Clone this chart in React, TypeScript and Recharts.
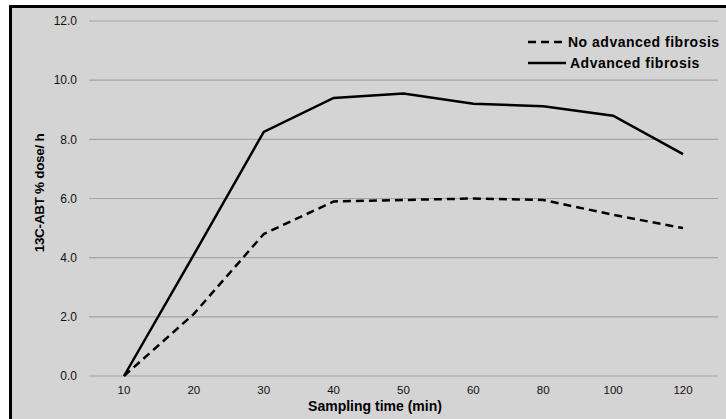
import { LineChart, Line, XAxis, YAxis, CartesianGrid } from 'recharts'

const times = ['10', '20', '30', '40', '50', '60', '80', '100', '120']
const noAdvanced = [0, 2.1, 4.8, 5.9, 5.95, 6.0, 5.95, 5.45, 5.0]
const advanced = [0, 4.1, 8.25, 9.4, 9.55, 9.2, 9.12, 8.8, 7.5]
const yTicks = [0, 2, 4, 6, 8, 10, 12]

const data = times.map((t, i) => ({
    time: t,
    noAdvanced: noAdvanced[i],
    advanced: advanced[i],
}))

const font = 'Arial, "Liberation Sans", sans-serif'

// legend drawn over the chart so it doesn't take plot space
function ChartLegend() {
    return (
        <svg width={200} height={44} style={{ position: 'absolute', left: 526, top: 33 }}>
            <line x1={2} y1={9} x2={38} y2={9} stroke="#000" strokeWidth={2.5} strokeDasharray="8 5" />
            <text x={42} y={14} fontFamily={font} fontWeight="bold" fontSize={14} letterSpacing={0.5} fill="#000">
                No advanced fibrosis
            </text>
            <line x1={2} y1={30} x2={40} y2={30} stroke="#000" strokeWidth={2.5} />
            <text x={44} y={35} fontFamily={font} fontWeight="bold" fontSize={14} letterSpacing={0.5} fill="#000">
                Advanced fibrosis
            </text>
        </svg>
    )
}

export default function App() {
    return (
        <div style={{ position: 'absolute', left: 0, top: 0, width: 726, height: 419, background: '#fff', overflow: 'hidden' }}>
            <div
                style={{
                    position: 'absolute',
                    left: 9,
                    top: 5,
                    width: 720,
                    height: 412,
                    background: '#d4d4d4',
                    borderLeft: '3px solid #000',
                    borderTop: '3px solid #000',
                    borderBottom: '1px solid #bbb',
                }}
            />
            <div style={{ position: 'absolute', left: 0, top: 0 }}>
                <LineChart width={726} height={419} data={data} margin={{ top: 21, right: 8, left: 0, bottom: 0 }}>
                    <CartesianGrid vertical={false} stroke="#a4a4a4" strokeWidth={1.2} />
                    <XAxis
                        dataKey="time"
                        axisLine={false}
                        tickLine={false}
                        height={43}
                        padding={{ left: 35, right: 35 }}
                        tick={{ fill: '#111', fontSize: 11.5, fontFamily: font }}
                        tickMargin={4}
                        label={() => (
                            <text x={375} y={411} textAnchor="middle" fontFamily={font} fontWeight="bold" fontSize={14} fill="#000">
                                Sampling time (min)
                            </text>
                        )}
                    />
                    <YAxis
                        domain={[0, 12]}
                        ticks={yTicks}
                        width={89}
                        axisLine={false}
                        tickLine={false}
                        tickMargin={6}
                        tickFormatter={(v: number) => v.toFixed(1)}
                        tick={{ fill: '#111', fontSize: 12, fontFamily: font }}
                        label={() => (
                            <text
                                x={44}
                                y={193}
                                transform="rotate(-90 44 193)"
                                textAnchor="middle"
                                fontFamily={font}
                                fontWeight="bold"
                                fontSize={13.5}
                                letterSpacing={-0.3}
                                fill="#000"
                            >
                                13C-ABT % dose/ h
                            </text>
                        )}
                    />
                    <Line
                        type="linear"
                        dataKey="noAdvanced"
                        stroke="#000"
                        strokeWidth={2.5}
                        strokeDasharray="8 5"
                        dot={false}
                        isAnimationActive={false}
                    />
                    <Line
                        type="linear"
                        dataKey="advanced"
                        stroke="#000"
                        strokeWidth={2.5}
                        dot={false}
                        isAnimationActive={false}
                    />
                </LineChart>
            </div>
            <ChartLegend />
        </div>
    )
}
